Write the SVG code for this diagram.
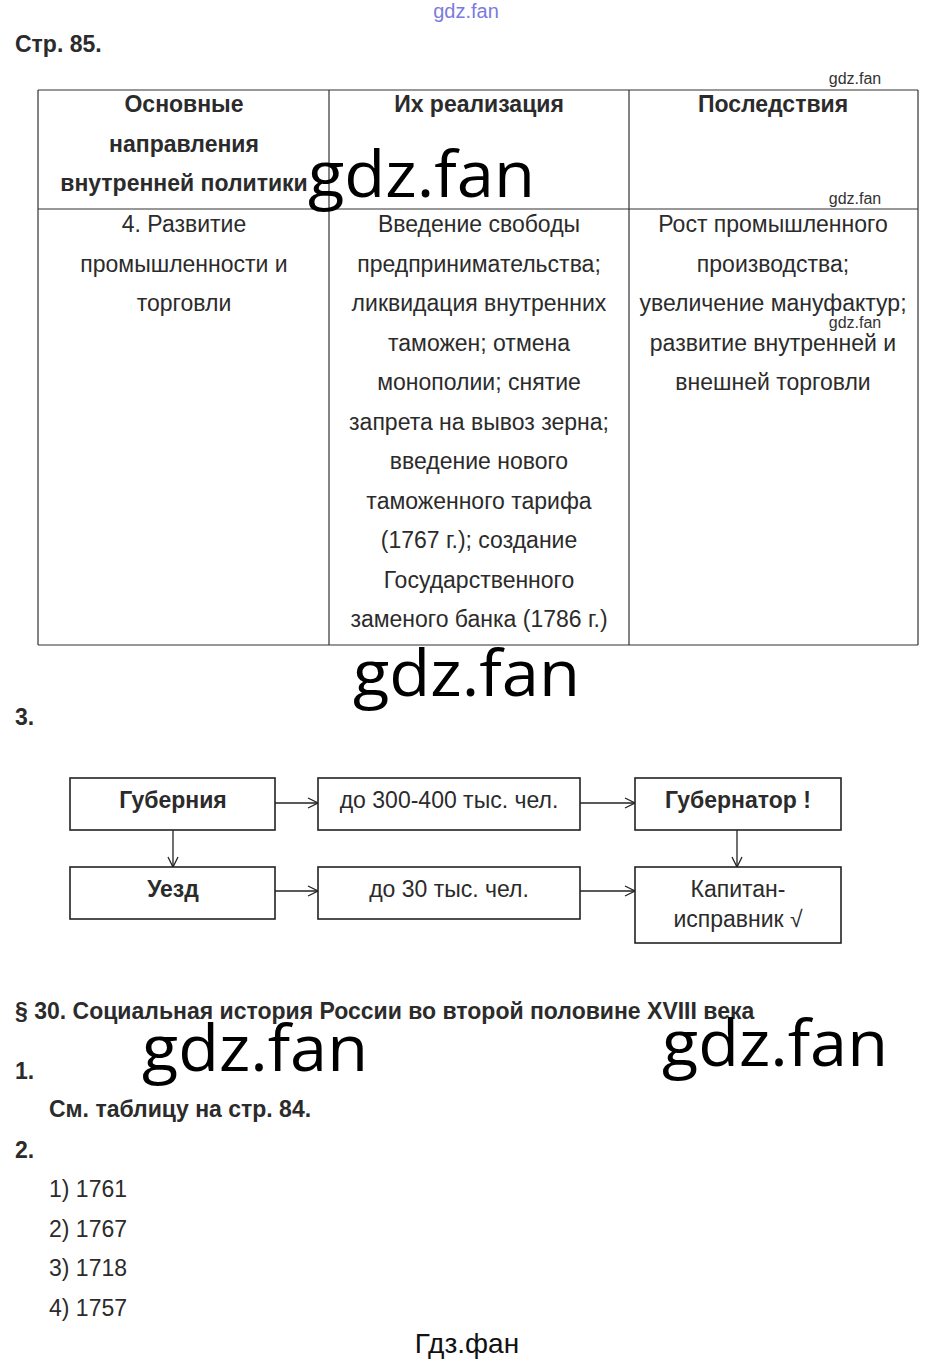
<svg xmlns="http://www.w3.org/2000/svg" width="930" height="1364" viewBox="0 0 930 1364">
<style>
.t{font-family:"Liberation Sans",Arial,sans-serif;font-size:23px;fill:#2b2b2b}
.b{font-weight:bold}
.c{text-anchor:middle}
.wm{font-family:"Open Sans","Noto Sans",sans-serif;font-size:64px;fill:#000}
.sm{font-family:"Liberation Sans",Arial,sans-serif;font-size:16px;fill:#333}
.box{fill:#fff;stroke:#222;stroke-width:1.6}
.grid{stroke:#333;stroke-width:1.2;fill:none}
.con{stroke:#222;stroke-width:1.3;fill:none;marker-end:url(#arr)}
</style>
<defs>
<marker id="arr" viewBox="0 0 12 12" refX="11" refY="6" markerWidth="12" markerHeight="12" markerUnits="userSpaceOnUse" orient="auto">
<path d="M1,1 L11,6 L1,11" fill="none" stroke="#222" stroke-width="1.3"/>
</marker>
</defs>
<rect width="930" height="1364" fill="#fff"/>

<text x="466" y="18" class="c" style="font-family:'Liberation Sans',sans-serif;font-size:20px;fill:#7b7be0">gdz.fan</text>
<text x="15" y="52" class="t b">Стр. 85.</text>
<text x="855" y="84" class="sm c">gdz.fan</text>

<g id="table">
<path class="grid" d="M38,90 H918 M38,209 H918 M38,645 H918 M38,90 V645 M329,90 V645 M629,90 V645 M918,90 V645"/>
<text class="t b c" x="184" y="112">Основные</text>
<text class="t b c" x="184" y="152">направления</text>
<text class="t b c" x="184" y="191">внутренней политики</text>
<text class="t b c" x="479" y="112">Их реализация</text>
<text class="t b c" x="773" y="112">Последствия</text>
<text x="855" y="204" class="sm c">gdz.fan</text>

<text class="t c" x="184" y="232">4. Развитие</text>
<text class="t c" x="184" y="272">промышленности и</text>
<text class="t c" x="184" y="311">торговли</text>

<text class="t c" x="479" y="232">Введение свободы</text>
<text class="t c" x="479" y="272">предпринимательства;</text>
<text class="t c" x="479" y="311">ликвидация внутренних</text>
<text class="t c" x="479" y="351">таможен; отмена</text>
<text class="t c" x="479" y="390">монополии; снятие</text>
<text class="t c" x="479" y="430">запрета на вывоз зерна;</text>
<text class="t c" x="479" y="469">введение нового</text>
<text class="t c" x="479" y="509">таможенного тарифа</text>
<text class="t c" x="479" y="548">(1767 г.); создание</text>
<text class="t c" x="479" y="588">Государственного</text>
<text class="t c" x="479" y="627">заменого банка (1786 г.)</text>

<text class="t c" x="773" y="232">Рост промышленного</text>
<text class="t c" x="773" y="272">производства;</text>
<text class="t c" x="773" y="311">увеличение мануфактур;</text>
<text x="855" y="328" class="sm c">gdz.fan</text>
<text class="t c" x="773" y="351">развитие внутренней и</text>
<text class="t c" x="773" y="390">внешней торговли</text>
</g>

<text class="wm" x="308" y="197" textLength="227" lengthAdjust="spacingAndGlyphs">gdz.fan</text>
<text class="wm" x="353" y="696" textLength="227" lengthAdjust="spacingAndGlyphs">gdz.fan</text>

<text x="15" y="725" class="t b">3.</text>

<g id="connectors">
<line class="con" x1="275" y1="803" x2="318" y2="803"/>
<line class="con" x1="580" y1="803" x2="635" y2="803"/>
<line class="con" x1="173" y1="830" x2="173" y2="867"/>
<line class="con" x1="737" y1="830" x2="737" y2="867"/>
<line class="con" x1="275" y1="891" x2="318" y2="891"/>
<line class="con" x1="580" y1="891" x2="635" y2="891"/>
</g>

<g id="gubernia"><rect class="box" x="70" y="778" width="205" height="52"/><text class="t b c" x="173" y="808">Губерния</text></g>
<g id="pop1"><rect class="box" x="318" y="778" width="262" height="52"/><text class="t c" x="449" y="808">до 300-400 тыс. чел.</text></g>
<g id="gubernator"><rect class="box" x="635" y="778" width="206" height="52"/><text class="t b c" x="738" y="808">Губернатор !</text></g>
<g id="uezd"><rect class="box" x="70" y="867" width="205" height="52"/><text class="t b c" x="173" y="897">Уезд</text></g>
<g id="pop2"><rect class="box" x="318" y="867" width="262" height="52"/><text class="t c" x="449" y="897">до 30 тыс. чел.</text></g>
<g id="kapitan"><rect class="box" x="635" y="867" width="206" height="76"/><text class="t c" x="738" y="897">Капитан-</text><text class="t c" x="738" y="927">исправник √</text></g>

<text x="15" y="1019" class="t b">§ 30. Социальная история России во второй половине XVIII века</text>
<text class="wm" x="142" y="1071" textLength="226" lengthAdjust="spacingAndGlyphs">gdz.fan</text>
<text class="wm" x="662" y="1066" textLength="226" lengthAdjust="spacingAndGlyphs">gdz.fan</text>
<text x="15" y="1079" class="t b">1.</text>
<text x="49" y="1117" class="t b">См. таблицу на стр. 84.</text>
<text x="15" y="1158" class="t b">2.</text>
<text x="49" y="1197" class="t">1) 1761</text>
<text x="49" y="1237" class="t">2) 1767</text>
<text x="49" y="1276" class="t">3) 1718</text>
<text x="49" y="1316" class="t">4) 1757</text>
<text x="467" y="1353" class="c" style="font-family:'Liberation Sans',sans-serif;font-size:28px;fill:#111">Гдз.фан</text>
</svg>
